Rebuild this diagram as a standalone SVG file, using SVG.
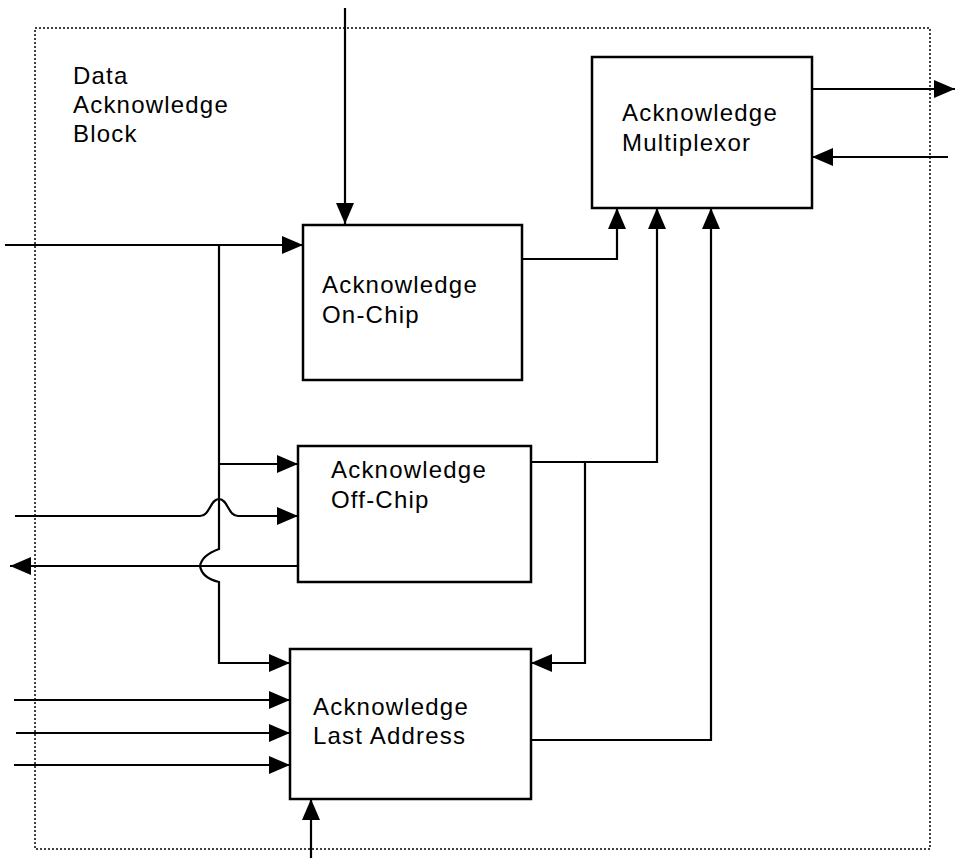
<svg xmlns="http://www.w3.org/2000/svg" width="956" height="862" viewBox="0 0 956 862">
<defs>
<marker id="ah" markerUnits="userSpaceOnUse" markerWidth="24" markerHeight="20" refX="21" refY="9" orient="auto">
<path d="M0,0 L21,9 L0,18 Z" fill="#000"/>
</marker>
<style>
.box{fill:#fff;stroke:#000;stroke-width:2.5}
.ln{fill:none;stroke:#000;stroke-width:2.2}
.ar{marker-end:url(#ah)}
.t{font-family:"Liberation Sans",Arial,sans-serif;font-size:24px;letter-spacing:1.2px;fill:#000}
</style>
</defs>
<rect id="border" x="35" y="28" width="895" height="821" fill="none" stroke="#000" stroke-width="1.5" stroke-dasharray="2 2"/>
<g id="label"><text class="t" x="73" y="84">Data</text><text class="t" x="73" y="113">Acknowledge</text><text class="t" x="73" y="142">Block</text></g>
<g id="connectors">
<path class="ln ar" d="M345 8 V224"/>
<path class="ln ar" d="M5 245 H303"/>
<path class="ln ar" d="M219 245 V549 Q202 555 200 566 Q202 578 219 582 V663 H290"/>
<path class="ln ar" d="M219 464 H298"/>
<path class="ln ar" d="M15 516 H200 C210 516 210 499 219 499 C228 499 228 516 238 516 H298"/>
<path class="ln ar" d="M298 566 H10"/>
<path class="ln ar" d="M522 259 H617 V208"/>
<path class="ln ar" d="M531 462 H657 V208"/>
<path class="ln ar" d="M585 462 V663 H531"/>
<path class="ln ar" d="M531 740 H711 V208"/>
<path class="ln ar" d="M812 89 H955"/>
<path class="ln ar" d="M948 157 H812"/>
<path class="ln ar" d="M14 700 H290"/>
<path class="ln ar" d="M16 733 H290"/>
<path class="ln ar" d="M14 765 H290"/>
<path class="ln ar" d="M311 858 V799"/>
</g>
<g id="mux"><rect class="box" x="592" y="57" width="220" height="151"/><text class="t" x="622" y="121">Acknowledge</text><text class="t" x="622" y="151">Multiplexor</text></g>
<g id="onchip"><rect class="box" x="303" y="225" width="219" height="155"/><text class="t" x="322" y="293">Acknowledge</text><text class="t" x="322" y="323">On-Chip</text></g>
<g id="offchip"><rect class="box" x="298" y="446" width="233" height="136"/><text class="t" x="331" y="478">Acknowledge</text><text class="t" x="331" y="508">Off-Chip</text></g>
<g id="lastaddr"><rect class="box" x="290" y="649" width="241" height="150"/><text class="t" x="313" y="715">Acknowledge</text><text class="t" x="313" y="744">Last Address</text></g>
</svg>
